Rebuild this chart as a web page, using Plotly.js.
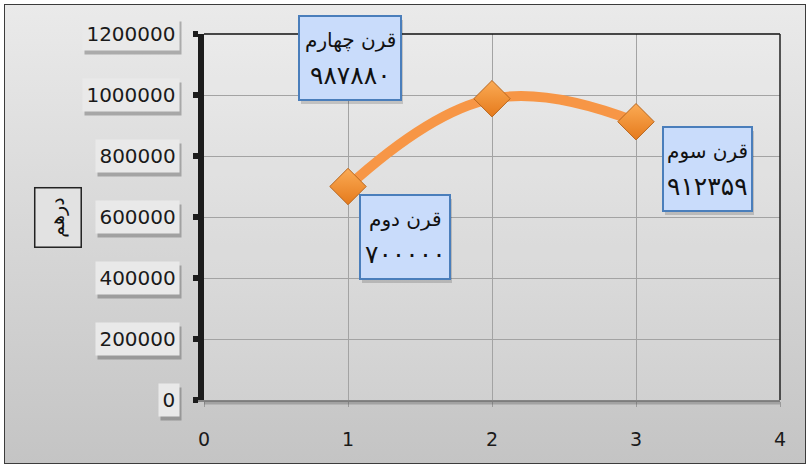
<!DOCTYPE html>
<html>
<head>
<meta charset="utf-8">
<script src="https://cdn.plot.ly/plotly-3.0.1.min.js"></script>
<style>
  html, body { margin: 0; padding: 0; background: #ffffff; }
  #wrap { position: relative; width: 809px; height: 467px; overflow: hidden; }
  #bg { position: absolute; left: 5px; top: 5px; width: 801px; height: 459px;
        background: linear-gradient(#eaeaea, #c4c4c4); }
  #chart { position: absolute; left: 0; top: 0; width: 809px; height: 467px; }
  #frame { position: absolute; left: 4px; top: 4px; width: 800px; height: 458px;
           border: 1.5px solid #3c3c3c; pointer-events: none; }
</style>
</head>
<body>
<div id="wrap">
  <div id="bg"></div>
  <div id="chart"></div>
  <div id="frame"></div>
</div>
<script>
// ---- data ----
const xVals = [1, 2, 3];
const yVals = [700000, 987880, 912359];
const centuryNames = ['قرن دوم', 'قرن چهارم', 'قرن سوم'];
const yTickVals = [0, 200000, 400000, 600000, 800000, 1000000, 1200000];
const yTickText = ['0', '200000', '400000', '600000', '800000', '1000000', '1200000'];
const xTickVals = [0, 1, 2, 3, 4];
const yAxisTitle = 'درهم';

function toPersianDigits(n) {
  const d = '۰۱۲۳۴۵۶۷۸۹';
  return String(n).replace(/[0-9]/g, c => d[+c]);
}

// label placement (pixel offsets from each point) - style only
const labelShift = [[57, -50], [-142, 41], [71, -47]];
const labelBox = [[86, 80], [98, 80], [85, 80]];

const trace = {
  x: xVals, y: yVals, type: 'scatter', mode: 'lines+markers',
  line: { color: '#f79646', width: 10, shape: 'spline', smoothing: 1.2 },
  marker: { symbol: 'diamond', size: 28, color: '#fbab55',
            gradient: { type: 'vertical', color: '#e57a1c' },
            line: { color: '#b8661e', width: 1 } },
  hoverinfo: 'skip'
};

const annotations = [];
const nameFont = { family: 'DejaVu Sans, sans-serif', size: 20, color: '#111' };
const numFont = { family: 'DejaVu Sans, sans-serif', size: 25, color: '#111' };

// data label boxes
xVals.forEach((xv, i) => {
  const [dx, dy] = labelShift[i];
  const [w, h] = labelBox[i];
  annotations.push({ x: xv, y: yVals[i], xref: 'x', yref: 'y', showarrow: false,
    text: ' ', width: w, height: h, bgcolor: 'rgba(0,0,0,0.16)', borderpad: 1, borderwidth: 2,
    bordercolor: 'rgba(0,0,0,0)', xshift: dx + 2, yshift: dy - 4 });
  annotations.push({ x: xv, y: yVals[i], xref: 'x', yref: 'y', showarrow: false,
    text: ' ', width: w, height: h, bgcolor: '#c9dcfb', bordercolor: '#4a7ebb',
    borderwidth: 2, borderpad: 1, xshift: dx, yshift: dy });
  annotations.push({ x: xv, y: yVals[i], xref: 'x', yref: 'y', showarrow: false,
    text: centuryNames[i], font: nameFont, xshift: dx, yshift: dy + 18 });
  annotations.push({ x: xv, y: yVals[i], xref: 'x', yref: 'y', showarrow: false,
    text: toPersianDigits(yVals[i]), font: numFont, xshift: dx, yshift: dy - 18 });
});

// y tick labels with boxes
yTickVals.forEach((v, i) => {
  const w = yTickText[i].length * 12.7 + 1;
  annotations.push({ x: -0.0417, y: v, xref: 'paper', yref: 'y', xanchor: 'right', yanchor: 'middle',
    showarrow: false, text: ' ', width: w, height: 26,
    bgcolor: 'rgba(60,60,60,0.35)', borderpad: 3, xshift: 2, yshift: -4 });
  annotations.push({ x: -0.0417, y: v, xref: 'paper', yref: 'y', xanchor: 'right', yanchor: 'middle',
    showarrow: false, text: yTickText[i], width: w, height: 26,
    font: { family: 'DejaVu Sans, sans-serif', size: 20, color: '#1a1a1a' },
    bgcolor: '#e9e9e9', borderpad: 3 });
});

// y axis title box
annotations.push({ x: -0.2535, y: 0.5, xref: 'paper', yref: 'paper', xanchor: 'center', yanchor: 'middle',
  showarrow: false, text: yAxisTitle, textangle: -90,
  font: { family: 'DejaVu Sans, sans-serif', size: 19, color: '#111' },
  bgcolor: '#e2e2e2', bordercolor: '#222', borderwidth: 1.5, width: 58, height: 45, borderpad: 0 });

const layout = {
  width: 809, height: 467,
  margin: { l: 204, r: 29, t: 34, b: 67 },
  paper_bgcolor: 'rgba(0,0,0,0)',
  plot_bgcolor: 'rgba(255,255,255,0.14)',
  showlegend: false,
  xaxis: {
    range: [0, 4], tickvals: xTickVals, ticktext: xTickVals.map(String),
    showgrid: true, gridcolor: '#a3a3a3', gridwidth: 1, zeroline: false,
    showline: true, linecolor: '#858585', linewidth: 2,
    ticks: 'outside', ticklen: 5, tickcolor: '#9a9a9a', tickwidth: 1,
    ticklabelstandoff: 16,
    tickfont: { family: 'DejaVu Sans, sans-serif', size: 19, color: '#1a1a1a' }
  },
  yaxis: {
    range: [0, 1200000], tickvals: yTickVals, showticklabels: false,
    showgrid: true, gridcolor: '#a3a3a3', gridwidth: 1, zeroline: false,
    showline: true, linecolor: '#1c1c1c', linewidth: 6,
    ticks: 'outside', ticklen: 5, tickwidth: 6, tickcolor: '#1c1c1c'
  },
  shapes: [
    { type: 'line', xref: 'paper', yref: 'paper', x0: 0, x1: 1, y0: 1, y1: 1,
      line: { color: '#111', width: 1.5 } },
    { type: 'line', xref: 'paper', yref: 'paper', x0: 1, x1: 1, y0: 0, y1: 1,
      line: { color: '#222', width: 1.5 } },
    { type: 'line', xref: 'paper', yref: 'paper', x0: 0, x1: 1, y0: -0.008, y1: -0.008,
      line: { color: 'rgba(90,90,90,0.35)', width: 3 } }
  ],
  annotations: annotations
};

Plotly.newPlot('chart', [trace], layout, { displayModeBar: false, staticPlot: true });
</script>
</body>
</html>
